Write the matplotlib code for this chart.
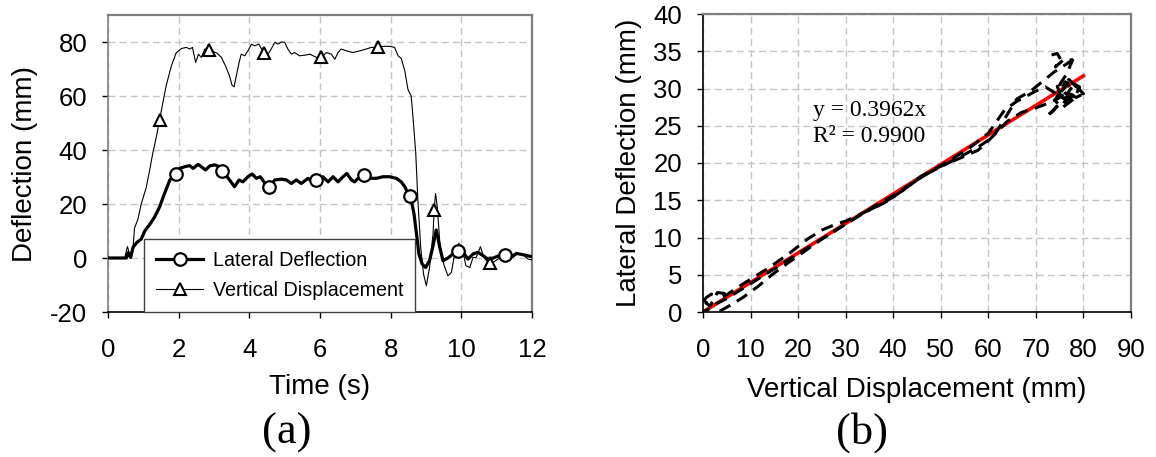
import numpy as np
import matplotlib
matplotlib.use("Agg")
import matplotlib.pyplot as plt

# ---------------- data: time histories ----------------
time_vert = [0.0, 0.47, 0.55, 0.63, 0.71, 0.75, 0.85, 0.94, 1.08, 1.18, 1.27, 1.37, 1.46,
             1.56, 1.65, 1.79, 1.93, 2.08, 2.22, 2.31, 2.39, 2.48, 2.56, 2.64, 2.74, 2.86,
             3.07, 3.21, 3.33, 3.44, 3.51, 3.57, 3.63, 3.71, 3.77, 3.87, 3.96, 4.06, 4.15,
             4.27, 4.41, 4.53, 4.62, 4.72, 4.81, 4.91, 5.00, 5.09, 5.19, 5.28, 5.42, 5.57,
             5.71, 5.90, 6.04, 6.18, 6.32, 6.42, 6.51, 6.60, 6.75, 6.93, 7.12, 7.31, 7.45,
             7.64, 7.78, 7.97, 8.11, 8.21, 8.30, 8.40, 8.49, 8.58, 8.63, 8.71, 8.77, 8.85,
             8.93, 9.01, 9.10, 9.20, 9.23, 9.27, 9.32, 9.40, 9.50, 9.62, 9.72, 9.81, 9.93,
             10.03, 10.13, 10.24, 10.33, 10.42, 10.54, 10.64, 10.75, 10.82, 10.90, 11.04,
             11.18, 11.32, 11.46, 11.60, 11.75, 11.89, 12.0]
vert_disp = [0.0, 0.0, 4.2, 0.5, 4.0, 11.0, 14.5, 20.0, 26.0, 32.6, 39.0, 45.0, 51.2,
             58.0, 64.0, 71.0, 76.0, 77.6, 78.0, 77.4, 78.0, 72.4, 75.5, 74.3, 77.4, 77.1,
             76.0, 74.3, 71.0, 67.4, 64.0, 63.4, 67.4, 72.4, 75.5, 74.9, 76.7, 79.2, 78.6,
             79.2, 75.9, 75.5, 77.4, 79.9, 79.2, 80.0, 79.9, 77.4, 75.5, 76.1, 74.9, 75.1,
             75.5, 74.3, 74.3, 76.1, 75.5, 73.6, 76.1, 77.4, 76.7, 76.1, 76.7, 77.4, 78.0,
             78.0, 78.4, 78.4, 78.0, 74.9, 73.9, 69.3, 62.4, 60.0, 52.5, 38.8, 21.4, 4.0,
             -6.0, -10.3, -3.5, 9.0, 17.9, 23.9, 18.9, 4.0, -2.2, -6.6, -5.3, 1.5, 5.5,
             3.4, -2.9, -3.5, 0.2, 0.2, 4.2, 0.2, -1.6, -1.9, -1.6, -0.4,
             0.9, 1.5, 0.2, 1.7, 1.2, -0.4, -0.7]

time_lat = [0.0, 0.52, 0.57, 0.64, 0.71, 0.82, 0.94, 1.04, 1.18, 1.32, 1.46, 1.60, 1.75,
            1.92, 2.03, 2.17, 2.31, 2.41, 2.55, 2.64, 2.76, 2.88, 3.02, 3.16, 3.24, 3.30,
            3.44, 3.58, 3.71, 3.82, 3.96, 4.08, 4.20, 4.31, 4.43, 4.56, 4.72, 4.91, 5.05,
            5.19, 5.33, 5.47, 5.66, 5.80, 5.90, 6.08, 6.23, 6.37, 6.51, 6.65, 6.76, 6.89,
            6.98, 7.12, 7.24, 7.41, 7.59, 7.78, 7.97, 8.16, 8.30, 8.40, 8.49, 8.56, 8.66,
            8.73, 8.80, 8.89, 8.99, 9.10, 9.20, 9.29, 9.39, 9.48, 9.62, 9.76, 9.91, 10.05,
            10.19, 10.33, 10.47, 10.61, 10.75, 10.90, 11.08, 11.23, 11.42, 11.56, 11.75, 12.0]
lat_defl = [0.0, 0.0, 2.0, 0.2, 4.0, 5.8, 7.0, 10.0, 12.4, 15.2, 18.9, 23.9, 28.9,
            31.1, 33.2, 33.8, 34.2, 33.2, 34.7, 33.8, 32.6, 34.1, 34.5, 33.8, 32.3, 31.3,
            28.9, 26.4, 28.9, 28.2, 30.1, 31.1, 29.5, 30.1, 27.9, 26.2, 28.9, 29.2, 28.9,
            27.6, 28.9, 27.6, 29.5, 28.2, 28.9, 30.1, 28.2, 30.1, 28.2, 30.1, 31.3, 28.9,
            28.2, 30.1, 30.8, 29.5, 29.5, 30.1, 30.1, 29.5, 28.2, 26.4, 23.9, 22.9, 16.4,
            9.0, 1.5, -2.2, -3.5, -1.0, 4.6, 10.4, 4.0, -1.0, 0.0, 1.5, 2.7, 2.1,
            -0.4, 1.5, 2.1, 0.9, -0.4, 0.0, 0.9, 1.2, 0.5, 1.7, 1.2, 0.5]

lat_marker_times = [1.92, 3.24, 4.56, 5.90, 7.24, 8.56, 9.91, 11.23]
vert_marker_times = [1.46, 2.86, 4.41, 6.04, 7.64, 9.23, 10.82]

# ---------------- data: lateral vs vertical cycles ----------------
disp_pass1 = [0.0, 0.8, 1.8, 0.6, 1.5, 3.0, 4.5, 3.5, 5.0, 7.0, 10.0, 14.0, 18.0, 22.0,
              25.0, 28.0, 30.0, 34.0, 38.0, 42.0, 46.0, 50.0, 54.0, 58.0, 61.0, 63.0,
              66.0, 69.0, 71.5, 73.8, 76.0, 78.5]
lat_pass1 = [1.4, 2.0, 2.4, 1.2, 0.8, 2.6, 2.5, 1.9, 2.3, 3.2, 4.4, 6.0, 7.8, 9.8,
             11.0, 11.8, 12.2, 13.4, 14.6, 16.3, 18.2, 19.5, 20.8, 22.2, 23.5, 25.5,
             28.6, 29.7, 31.0, 32.2, 33.1, 34.2]

disp_pass2 = [73.3, 74.5, 75.3, 74.1, 76.1, 77.7, 76.5, 75.0, 77.0, 78.5, 77.2, 75.5,
              73.8, 72.2, 74.5, 76.8, 78.3, 80.0, 78.0, 76.5, 74.5, 75.8, 77.6, 76.2,
              74.0, 75.5, 78.0, 79.2, 77.0, 74.8, 72.0, 69.8, 65.8,
              63.4, 60.0, 56.0, 52.0, 48.0, 44.0, 40.0, 36.0, 32.0, 28.0, 24.0, 20.0,
              16.0, 12.0, 8.0, 5.0, 3.0, 1.5, 0.0]
lat_pass2 = [34.5, 34.7, 33.8, 32.9, 34.0, 33.8, 32.0, 30.5, 31.2, 30.2, 29.0, 28.6,
             27.1, 26.2, 27.6, 28.4, 29.4, 29.3, 30.6, 29.2, 30.3, 28.0, 29.8, 30.9,
             28.4, 27.4, 28.6, 30.2, 31.0, 29.1, 30.2, 29.6, 28.2,
             27.1, 24.0, 22.0, 20.4, 18.9, 17.3, 15.6, 14.2, 12.6, 11.0, 9.4, 7.8,
             6.2, 4.6, 3.0, 1.8, 1.2, 0.5, 0.0]

disp_pass3 = [3.5, 6.0, 8.5, 11.5, 14.5, 17.9, 21.0, 25.0, 29.0, 33.8, 37.8, 41.0,
              45.8, 49.8, 54.6, 57.8, 60.2, 62.2, 64.0, 67.0, 70.0, 72.5, 74.5, 76.5,
              78.5, 80.0]
lat_pass3 = [0.1, 1.0, 2.0, 3.4, 5.0, 6.6, 8.0, 9.8, 11.4, 13.3, 14.6, 15.8,
             18.2, 19.5, 20.8, 21.7, 23.1, 24.4, 25.6, 26.8, 27.4, 28.0, 28.6, 29.4,
             28.8, 29.3]

# linear trend through the origin
slope = 0.3962
r_squared = 0.9900
trend_x = [0.0, 80.0]

# ticks
a_xticks = [0, 2, 4, 6, 8, 10, 12]
a_yticks = [-20, 0, 20, 40, 60, 80]
b_xticks = [0, 10, 20, 30, 40, 50, 60, 70, 80, 90]
b_yticks = [0, 5, 10, 15, 20, 25, 30, 35, 40]

# ---------------- styling ----------------
SANS = ["Liberation Sans", "DejaVu Sans"]
SERIF = ["Liberation Serif", "DejaVu Serif"]
plt.rcParams["font.family"] = SANS
GRID = dict(color="#c4c4c4", linestyle=(0, (5, 3)), linewidth=1.0)
TICK_FS = 18.5
LABEL_FS = 20

W, H = 1156, 457
fig = plt.figure(figsize=(W / 100, H / 100), dpi=100)


def box(l, t, r, b):
    return [l / W, 1 - b / H, (r - l) / W, (b - t) / H]


def style_axes(ax, left_color):
    ax.grid(True, **GRID)
    ax.set_axisbelow(True)
    for side in ("top", "right"):
        ax.spines[side].set_color("#7f7f7f")
        ax.spines[side].set_linewidth(1.6)
    ax.spines["left"].set_color(left_color)
    ax.spines["left"].set_linewidth(1.2)
    ax.spines["bottom"].set_color("black")
    ax.spines["bottom"].set_linewidth(1.2)
    ax.tick_params(direction="out", length=4, width=1, labelsize=TICK_FS,
                   colors="black")
    ax.tick_params(axis="x", pad=15)
    ax.tick_params(axis="y", pad=11)


# ---------------- panel (a) ----------------
ax1 = fig.add_axes(box(108, 15, 532, 312))
style_axes(ax1, "#7f7f7f")

t_lat = np.array(time_lat)
t_vert = np.array(time_vert)
lat_every = [int(np.argmin(np.abs(t_lat - m))) for m in lat_marker_times]
vert_every = [int(np.argmin(np.abs(t_vert - m))) for m in vert_marker_times]

ax1.plot(time_vert, vert_disp, color="black", linewidth=0.8, marker="^",
         markersize=9, markerfacecolor="white", markeredgecolor="black",
         markeredgewidth=1.5, markevery=vert_every, label="Vertical Displacement",
         zorder=3)
ax1.plot(time_lat, lat_defl, color="black", linewidth=2.3, marker="o",
         markersize=9, markerfacecolor="white", markeredgecolor="black",
         markeredgewidth=1.6, markevery=lat_every, label="Lateral Deflection",
         zorder=4)

ax1.set_xlim(0, 12)
ax1.set_ylim(-20, 90)
ax1.set_xticks(a_xticks)
ax1.set_yticks(a_yticks)
ax1.set_xticklabels([str(v) for v in a_xticks])
ax1.set_yticklabels([str(v) for v in a_yticks])
ax1.set_xlabel("Time (s)", fontsize=LABEL_FS)
ax1.set_ylabel("Deflection (mm)", fontsize=LABEL_FS)
ax1.xaxis.set_label_coords(0.5, (312 - 387) / 297)
ax1.xaxis.label.set_va("center")
ax1.yaxis.set_label_coords((25 - 108) / 424, 0.5)
ax1.yaxis.label.set_va("center")

handles, labels = ax1.get_legend_handles_labels()
leg = ax1.legend(handles[::-1], labels[::-1], loc="lower left",
                 bbox_to_anchor=((144 - 108) / 424, 0.0), borderaxespad=0,
                 fontsize=14.2, frameon=True, fancybox=False, framealpha=1,
                 edgecolor="#404040", handlelength=2.4, handletextpad=0.5,
                 borderpad=0.6, labelspacing=0.55)
leg.get_frame().set_linewidth(1.0)
leg.set_zorder(5)

fig.text(287 / W, 1 - 433 / H, "(a)", fontsize=32, family=SERIF,
         ha="center", va="center")

# ---------------- panel (b) ----------------
ax2 = fig.add_axes(box(703, 14, 1131, 312))
style_axes(ax2, "black")

dash = dict(color="black", linewidth=2.2, linestyle=(0, (4, 2.5)), zorder=3)
ax2.plot(disp_pass1, lat_pass1, **dash)
ax2.plot(disp_pass2, lat_pass2, **dash)
ax2.plot(disp_pass3, lat_pass3, **dash)

trend_y = [slope * x for x in trend_x]
ax2.plot(trend_x, trend_y, color="#ff0000", linewidth=2.6, zorder=2.5)

ax2.text(23.1, 25.3, f"y = {slope:.4f}x\nR\u00b2 = {r_squared:.4f}",
         fontsize=17, family=SERIF, ha="left", va="center", linespacing=1.3)

ax2.set_xlim(0, 90)
ax2.set_ylim(0, 40)
ax2.set_xticks(b_xticks)
ax2.set_yticks(b_yticks)
ax2.set_xlabel("Vertical Displacement (mm)", fontsize=LABEL_FS)
ax2.set_ylabel("Lateral Deflection (mm)", fontsize=LABEL_FS)
ax2.xaxis.set_label_coords(0.5, (312 - 390) / 298)
ax2.xaxis.label.set_va("center")
ax2.yaxis.set_label_coords((629 - 703) / 428, 0.5)
ax2.yaxis.label.set_va("center")

fig.text(862 / W, 1 - 433 / H, "(b)", fontsize=32, family=SERIF,
         ha="center", va="center")

fig.savefig("out.png", dpi=100)
